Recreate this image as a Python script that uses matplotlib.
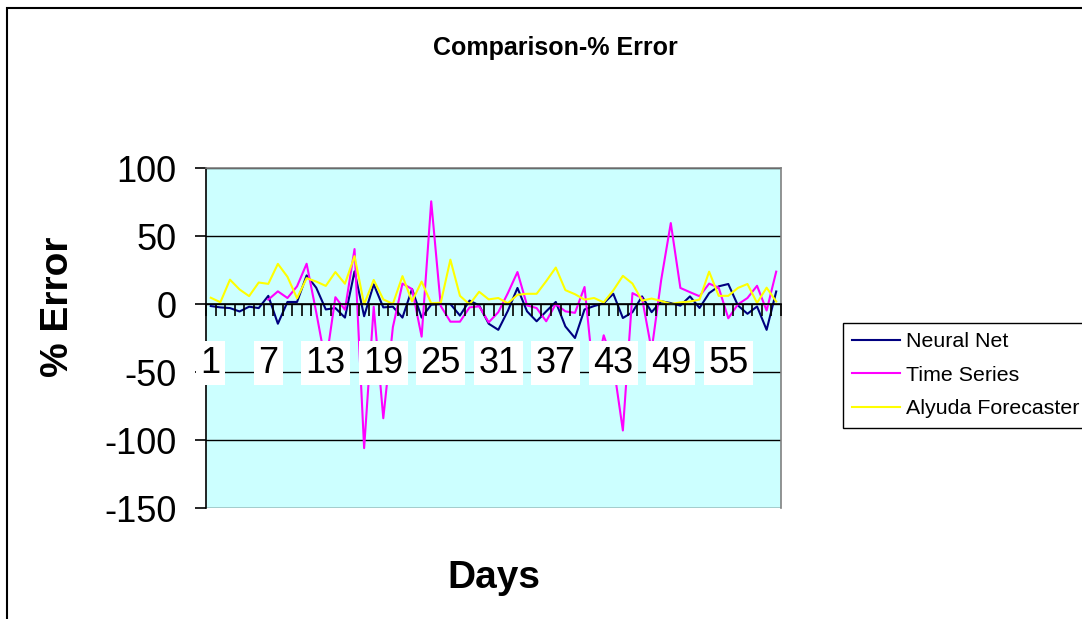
import numpy as np
import matplotlib.pyplot as plt
from matplotlib.patches import Rectangle

days = np.arange(1, 61)

neural_net = [
    -1.5, -2.5, -3.0, -5.5, -2.0, -3.0, 6.0, -14.5, 1.5, 1.5,
    21.0, 12.0, -4.0, -3.0, -10.0, 24.0, -9.0, 14.5, -2.5, -2.0,
    -10.0, 11.0, -10.0, -0.5, 0.0, 0.0, -8.5, 2.5, -1.0, -14.5,
    -19.0, -5.0, 11.8, -5.4, -12.7, -5.4, 1.5, -16.5, -25.0, -4.0,
    -1.5, 0.5, 7.5, -10.3, -6.0, 5.6, -6.0, 2.0, 0.7, -1.2,
    5.6, -2.9, 8.0, 13.0, 14.7, -1.0, -7.2, -1.8, -19.0, 9.2,
]

# no time series forecast for the first six days
time_series = [
    np.nan, np.nan, np.nan, np.nan, np.nan, np.nan, 3.2, 9.3, 4.4, 13.0,
    29.6, -6.0, -44.0, 5.0, -4.2, 40.4, -106.0, -2.0, -84.0, -17.0,
    15.0, 11.0, -24.0, 75.5, -1.5, -13.0, -13.0, -2.5, -1.7, -13.5,
    -6.0, 8.0, 23.5, -1.0, -3.0, -12.7, 0.0, -5.4, -6.5, 12.5,
    -57.0, -23.0, -44.0, -93.0, 8.0, 4.4, -34.0, 17.8, 59.5, 11.8,
    8.7, 5.7, 15.0, 12.0, -10.5, -0.3, 4.4, 13.4, -4.8, 23.8,
]

alyuda = [
    4.6, 1.3, 17.9, 10.7, 5.8, 15.8, 14.8, 29.5, 20.0, 4.2,
    19.0, 16.5, 13.3, 23.5, 14.9, 35.2, -0.3, 17.7, 3.4, 0.0,
    20.5, 2.0, 16.5, 0.5, 1.0, 32.6, 6.0, -0.3, 9.0, 3.4,
    4.4, 0.5, 6.8, 7.5, 7.5, 16.8, 26.8, 10.2, 7.2, 3.2,
    4.4, 1.2, 10.0, 20.7, 15.0, 2.5, 4.0, 2.2, 0.0, 1.2,
    1.8, 3.3, 23.8, 6.0, 6.0, 11.8, 14.7, 0.8, 12.0, 1.8,
]

series_names = ['Neural Net', 'Time Series', 'Alyuda Forecaster']
series_colors = ['#000080', '#FF00FF', '#FFFF00']

y_ticks = [-150, -100, -50, 0, 50, 100]


def main():
    plt.rcParams['font.family'] = ['Liberation Sans', 'DejaVu Sans']
    plt.rcParams['axes.unicode_minus'] = False

    fig = plt.figure(figsize=(10.82, 6.19), dpi=100)
    ax = fig.add_axes([206 / 1082, 1 - 508 / 619, 575 / 1082, 340 / 619])
    ax.set_facecolor('#CCFFFF')

    for values, name, color in zip([neural_net, time_series, alyuda],
                                   series_names, series_colors):
        ax.plot(days, values, color=color, linewidth=1.5, label=name)

    ax.set_xlim(0.5, 60.5)
    ax.set_ylim(-150, 100)
    ax.set_yticks(y_ticks)
    ax.grid(True, axis='y', color='black', linewidth=1)

    # category axis sits on the zero line, ticks between the days
    ax.spines['bottom'].set_position(('data', 0))
    ax.spines['bottom'].set_linewidth(1.2)
    ax.spines['left'].set_linewidth(1.2)
    for side in ['top', 'right']:
        ax.spines[side].set_color('#808080')
        ax.spines[side].set_linewidth(1.2)

    ax.set_xticks(days[::6])
    ax.set_xticklabels([str(d) for d in days[::6]])
    ax.set_xticks(np.arange(0.5, 61, 1), minor=True)
    ax.tick_params(axis='x', which='major', length=0, pad=30, labelsize=26)
    ax.tick_params(axis='x', which='minor', length=8.5, width=1.2,
                   direction='out', color='black')
    ax.tick_params(axis='y', length=8, width=1.2, pad=13, labelsize=26)
    for lbl in ax.get_xticklabels():
        lbl.set_bbox(dict(facecolor='white', edgecolor='none', pad=3))
    ax.xaxis.set_zorder(3)

    ax.set_xlabel('Days', fontsize=28, fontweight='bold', va='center')
    ax.xaxis.set_label_coords(0.501, -0.206)
    ax.set_ylabel('% Error', fontsize=28, fontweight='bold', va='center')
    ax.yaxis.set_label_coords(-0.257, 0.591)

    fig.suptitle('Comparison-% Error', x=555 / 1082, y=1 - 48 / 619,
                 va='center', fontsize=18, fontweight='bold')

    leg = fig.legend(loc='upper left',
                     bbox_to_anchor=(842.7 / 1082, 1 - 322.7 / 619),
                     borderaxespad=0, fontsize=15.4, handlelength=2.22,
                     handletextpad=0.27, borderpad=0.45, labelspacing=0.68,
                     fancybox=False, framealpha=1, edgecolor='black')
    leg.get_frame().set_linewidth(1)

    # chart area border
    fig.patches.append(Rectangle((7 / 1082, -0.05), 1.2, 1 - 8 / 619 + 0.05,
                                 transform=fig.transFigure, fill=False,
                                 edgecolor='black', linewidth=1.5))

    plt.savefig('out.png')


if __name__ == '__main__':
    main()
